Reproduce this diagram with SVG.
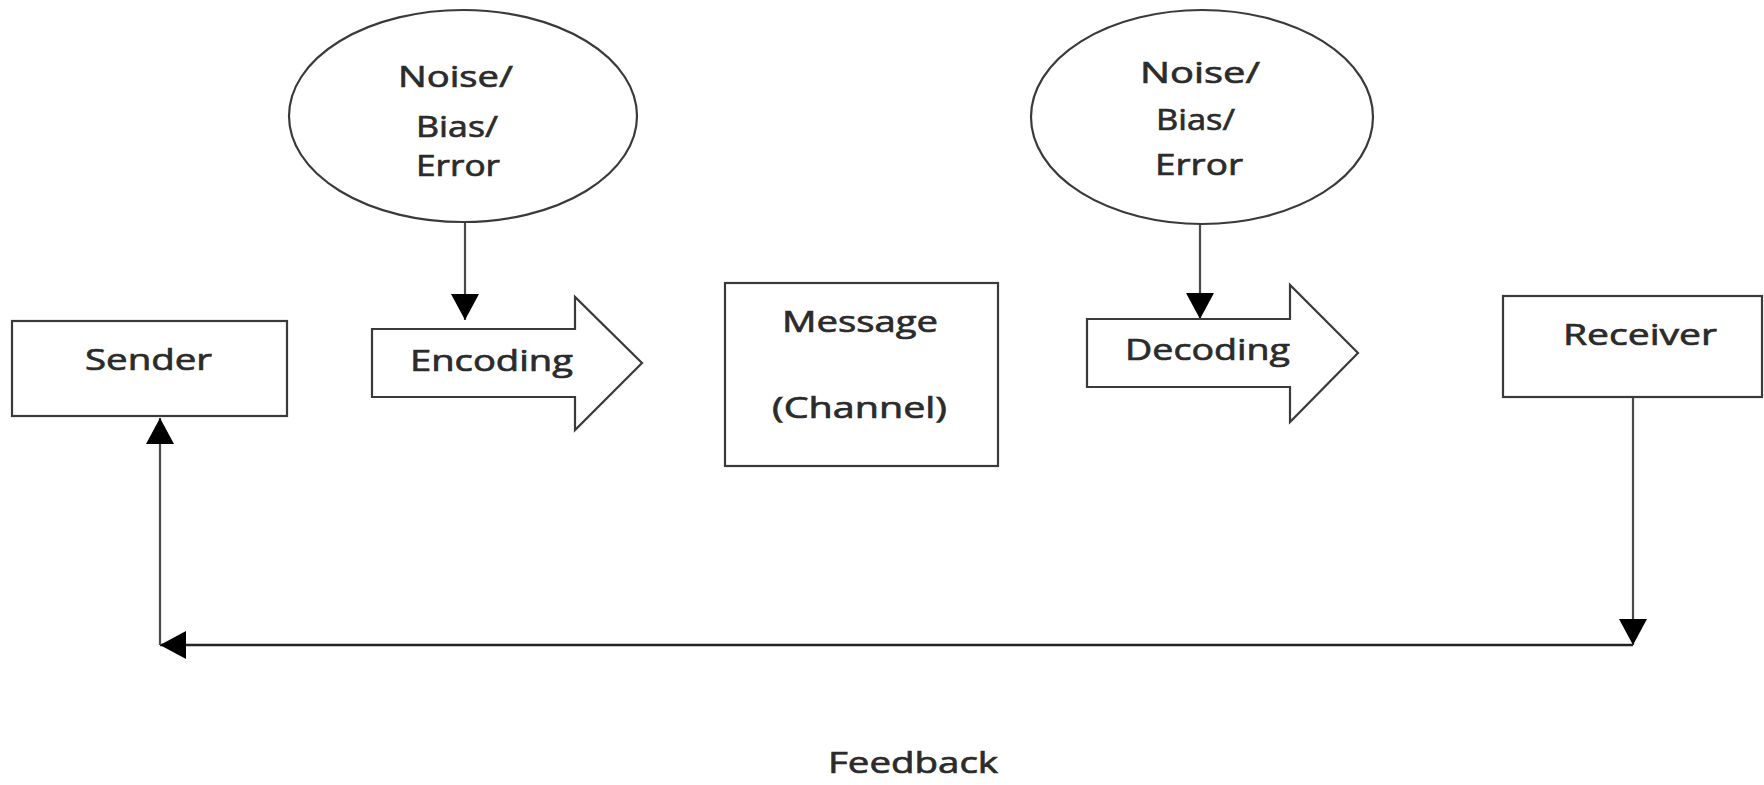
<svg xmlns="http://www.w3.org/2000/svg" width="1764" height="785" viewBox="0 0 1764 785">
  <style>
    .box { fill: #ffffff; stroke: #3a3a3a; stroke-width: 2.2; }
    .lbl { font-family: "Open Sans", "Liberation Sans", sans-serif; font-size: 30px; fill: #2b2b2b; stroke: #2b2b2b; stroke-width: 0.7; }
    .conn { stroke: #4a4a4a; stroke-width: 2.2; fill: none; marker-end: url(#ah); }
  </style>
  <defs>
    <marker id="ah" markerUnits="userSpaceOnUse" markerWidth="28" markerHeight="28" refX="26" refY="14" orient="auto" viewBox="0 0 28 28">
      <path d="M0,0 L26,14 L0,28 Z" fill="#000000"/>
    </marker>
  </defs>
  <rect x="0" y="0" width="1764" height="785" fill="#ffffff"/>

  <g id="connectors">
    <line class="conn" x1="465" y1="222" x2="465" y2="320"/>
    <line class="conn" x1="1200" y1="223" x2="1200" y2="319"/>
    <line class="conn" x1="1633" y1="397" x2="1633" y2="645"/>
    <line class="conn" x1="1633" y1="645" x2="160" y2="645" style="stroke:#222;stroke-width:2.6"/>
    <line class="conn" x1="160" y1="645" x2="160" y2="418"/>
  </g>

  <g id="noise1">
    <ellipse class="box" cx="463" cy="116" rx="174" ry="106"/>
    <text class="lbl" x="398" y="87" textLength="115" lengthAdjust="spacingAndGlyphs">Noise/</text>
    <text class="lbl" x="416" y="137" textLength="82" lengthAdjust="spacingAndGlyphs">Bias/</text>
    <text class="lbl" x="416" y="176" textLength="84" lengthAdjust="spacingAndGlyphs">Error</text>
  </g>

  <g id="noise2">
    <ellipse class="box" cx="1202" cy="117" rx="171" ry="107"/>
    <text class="lbl" x="1140" y="83" textLength="120" lengthAdjust="spacingAndGlyphs">Noise/</text>
    <text class="lbl" x="1156" y="130" textLength="79" lengthAdjust="spacingAndGlyphs">Bias/</text>
    <text class="lbl" x="1155" y="175" textLength="88" lengthAdjust="spacingAndGlyphs">Error</text>
  </g>

  <g id="sender">
    <rect class="box" x="12" y="321" width="275" height="95"/>
    <text class="lbl" x="85" y="370" textLength="127" lengthAdjust="spacingAndGlyphs">Sender</text>
  </g>

  <g id="encoding">
    <polygon class="box" points="372,329 575,329 575,297 642,363 575,430 575,397 372,397"/>
    <text class="lbl" x="410" y="371" textLength="163" lengthAdjust="spacingAndGlyphs">Encoding</text>
  </g>

  <g id="message">
    <rect class="box" x="725" y="283" width="273" height="183"/>
    <text class="lbl" x="782" y="332" textLength="156" lengthAdjust="spacingAndGlyphs">Message</text>
    <text class="lbl" x="772" y="418" textLength="175" lengthAdjust="spacingAndGlyphs">(Channel)</text>
  </g>

  <g id="decoding">
    <polygon class="box" points="1087,319 1290,319 1290,285 1358,353 1290,422 1290,387 1087,387"/>
    <text class="lbl" x="1125" y="360" textLength="165" lengthAdjust="spacingAndGlyphs">Decoding</text>
  </g>

  <g id="receiver">
    <rect class="box" x="1503" y="296" width="259" height="101"/>
    <text class="lbl" x="1563" y="345" textLength="154" lengthAdjust="spacingAndGlyphs">Receiver</text>
  </g>

  <g id="feedback">
    <text class="lbl" x="828" y="773" textLength="170" lengthAdjust="spacingAndGlyphs">Feedback</text>
  </g>
</svg>
